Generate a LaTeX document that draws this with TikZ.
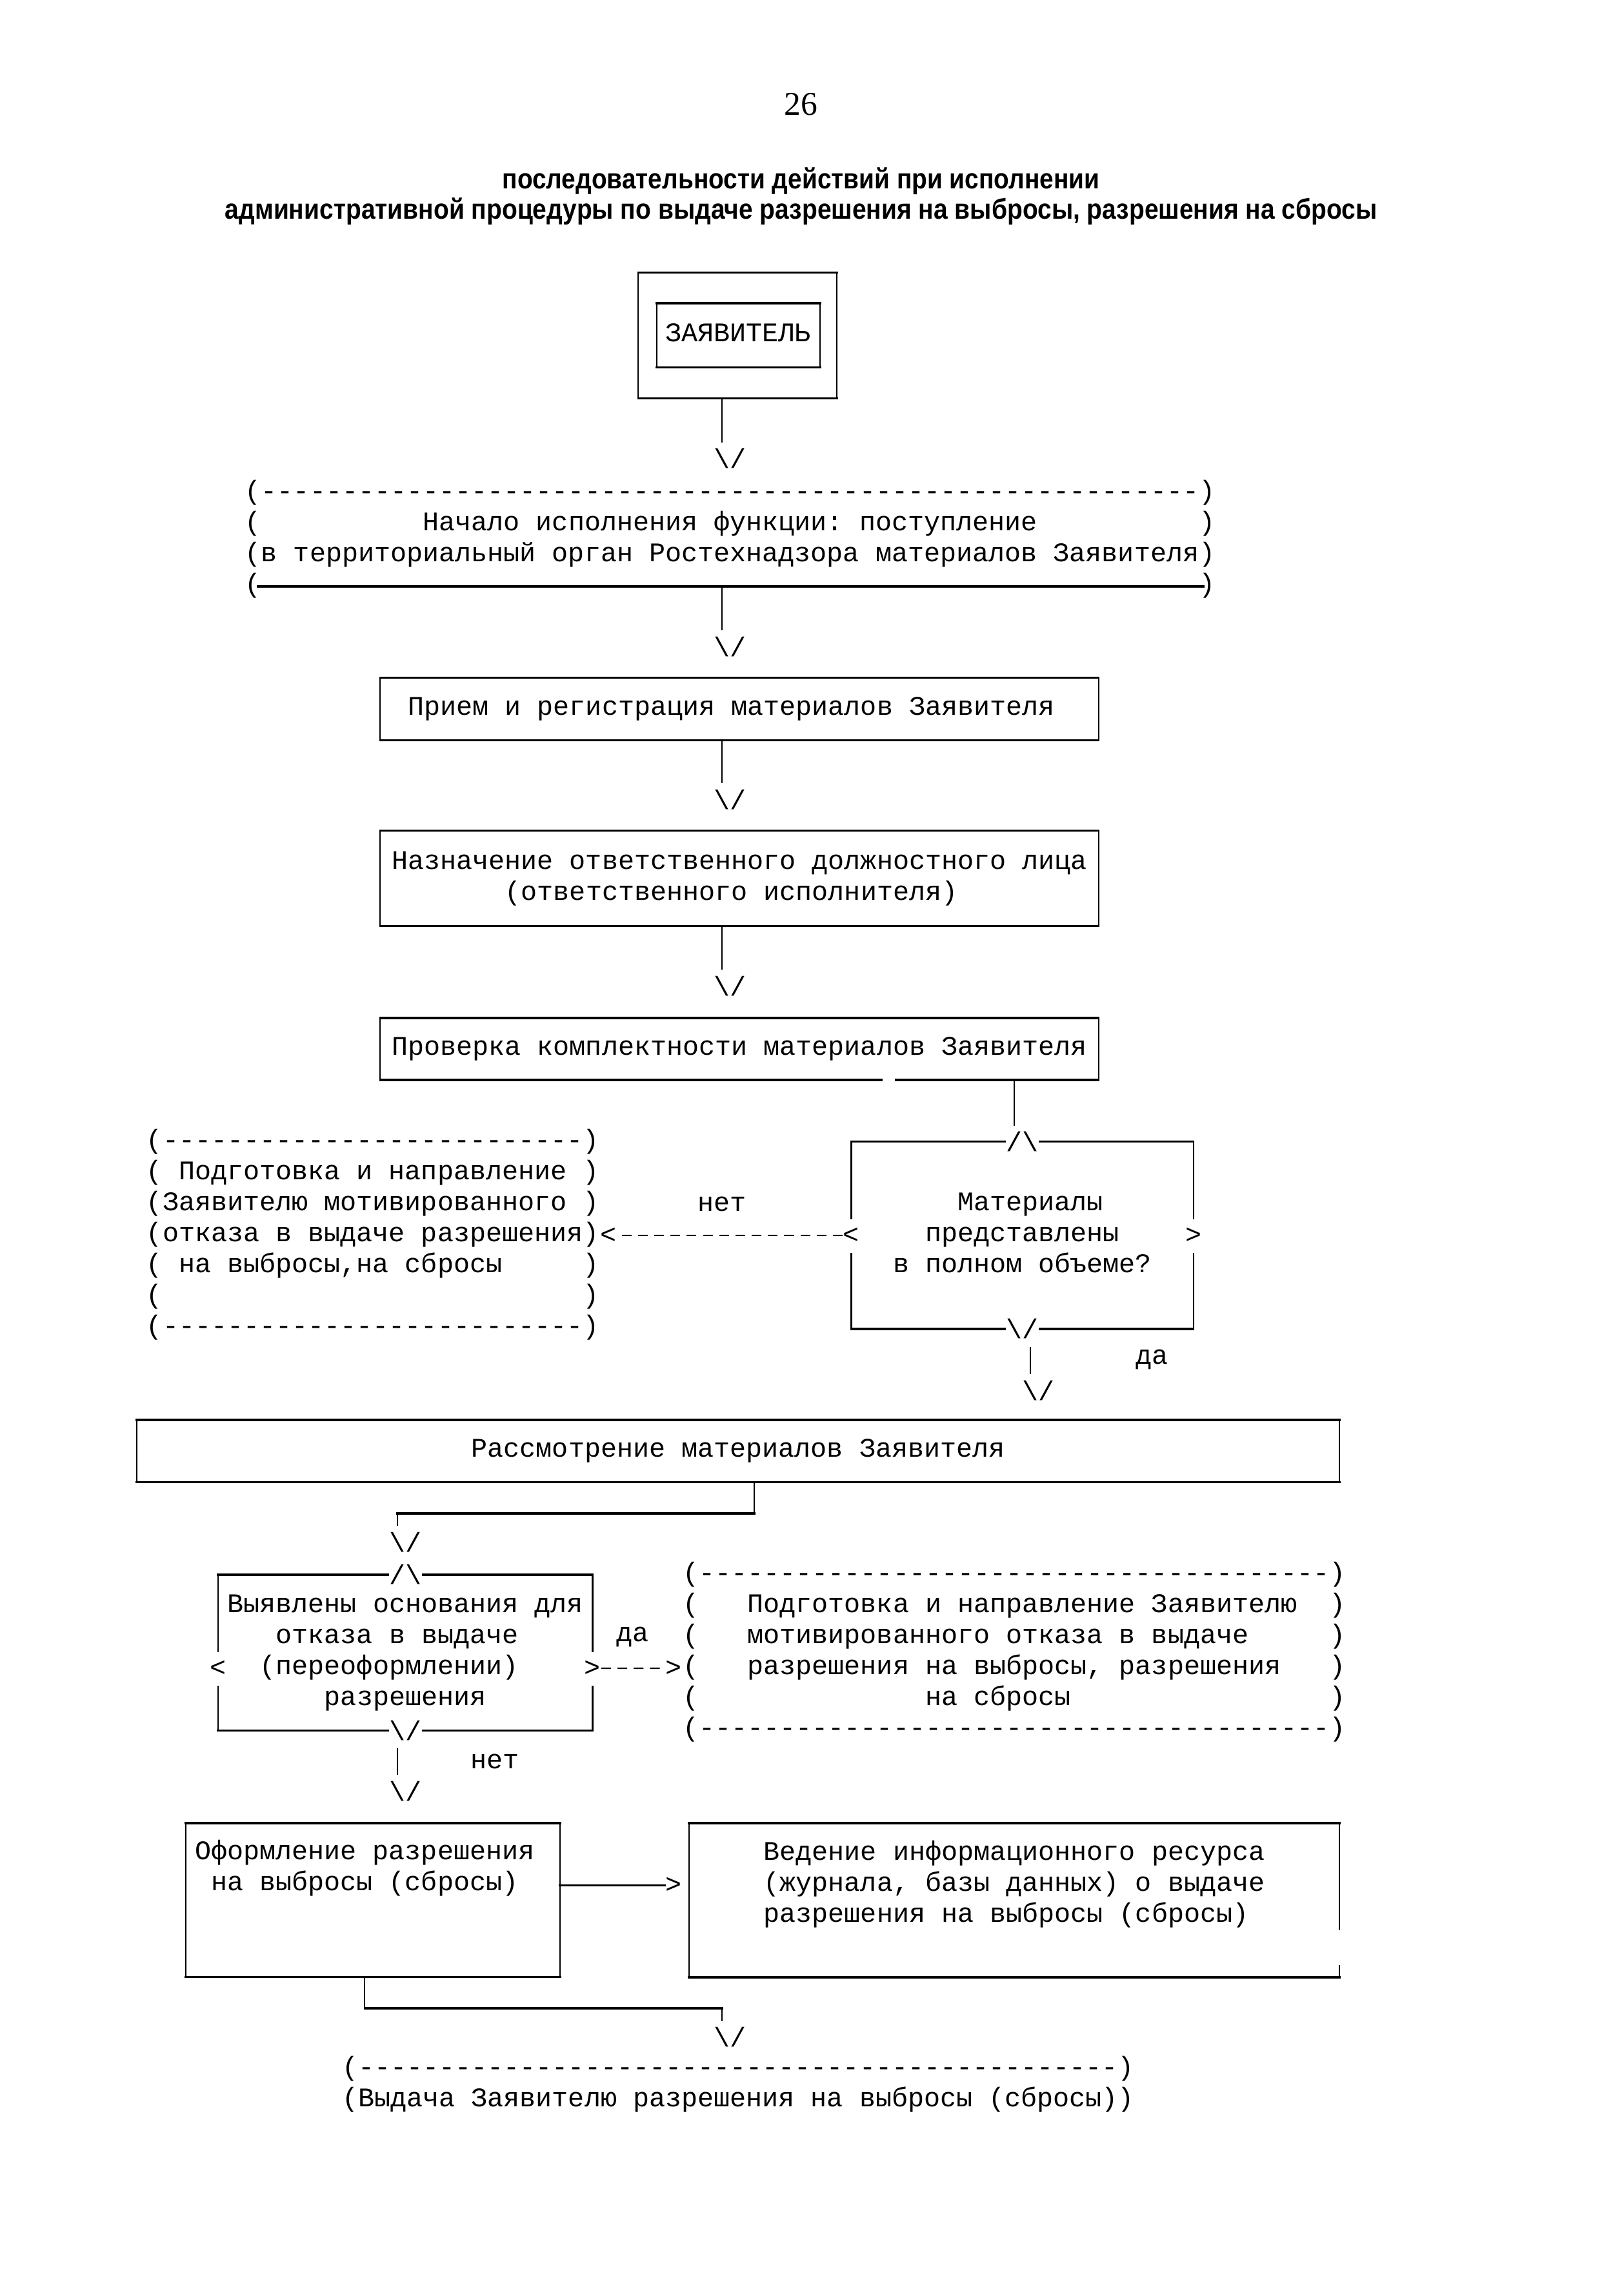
\documentclass[tikz,border=0pt]{standalone}
\usepackage{fontspec}
\usepackage{graphicx}
\setmainfont{Liberation Serif}
\setmonofont{Liberation Mono}
\newfontfamily\sansfam{Liberation Sans}
\usetikzlibrary{calc}
\newcommand\mf{\ttfamily\fontsize{10.05pt}{11.557pt}\selectfont}
\newcommand\SP[1]{\hbox to #1\dimexpr0.600098em\relax{}}
\ExplSyntaxOn
\NewDocumentCommand\DD{m}{\prg_replicate:nn{#1}{-}}
\ExplSyntaxOff
\newcommand\BS{\textbackslash}
\newcommand\hv[1]{\draw[hl] (#1.north west) -- (#1.north east) (#1.south west) -- (#1.south east);\draw[vl] (#1.north west) -- (#1.south west) (#1.north east) -- (#1.south east);}
\begin{document}
\begin{tikzpicture}[x=0.190909mm,y=-0.190909mm,
  mono/.style={font=\mf,inner sep=0pt,align=left},
  glyph/.style={font=\mf,inner sep=0pt},
  ttl/.style={font=\sansfam\bfseries\fontsize{10.6pt}{12pt}\selectfont,inner sep=0pt,anchor=base},
  wd/.style={minimum width=#1*0.190909mm},
  ht/.style={minimum height=#1*0.190909mm},
  hl/.style={line width=0.8pt,line cap=rect},
  vl/.style={line width=0.5pt},
  dconn/.style={line width=0.55pt,dash pattern=on 1.28mm off 0.85mm}]
\fill[white] (0,0) rectangle (1100,1576.7);
\useasboundingbox (0,0) rectangle (1100,1576.7);

\coordinate (c13) at (250.45,0);
\coordinate (c15) at (272.75,0);
\coordinate (c35) at (495.75,0);
\coordinate (c37) at (518.05,0);
\coordinate (c53) at (696.45,0);
\coordinate (c54) at (707.6,0);

% header
\node[font=\fontsize{12.4pt}{14pt}\selectfont,inner sep=0pt,anchor=base] (pg) at (550,79) {26};
\node[ttl] (t1) at (550,129.5) {\resizebox{78.3mm}{\height}{последовательности действий при исполнении}};
\node[ttl] (t2) at (550,150.6) {\resizebox{151mm}{\height}{административной процедуры по выдаче разрешения на выбросы, разрешения на сбросы}};

% Заявитель
\node[mono,wd=135.8,ht=85.8] (zayo) at (506.5,230.3) {};
\node[mono,wd=111.5,ht=43.3] (zayi) at (506.9,230.2) {\strut ЗАЯВИТЕЛЬ};
\hv{zayo}
\hv{zayi}
\node[glyph] (a1) at (501.3,315) {\BS/};
\draw[vl,shorten >=0.75mm] (c35 |- zayo.south) -- (c35 |- a1.north);

% Начало
\node[mono] (nach) at (501.35,370.6) {\strut(\DD{58})\\
\strut(\SP{10}Начало исполнения функции: поступление\SP{10})\\
\strut(в территориальный орган Ростехнадзора материалов Заявителя)\\
\strut(\SP{58})};
\draw[hl] (177.2,402.7) -- (826.2,402.7);
\coordinate (nb) at (495.75,402.7);
\node[glyph] (a2) at (501.3,444) {\BS/};
\draw[vl,shorten >=0.75mm] (nb) -- (c35 |- a2.north);

% Прием
\node[mono,wd=492.5,ht=42.1] (priem) at (507.75,486.95) {\strut Прием и регистрация материалов Заявителя\SP{1}};
\hv{priem}
\node[glyph] (a3) at (501.3,549) {\BS/};
\draw[vl,shorten >=0.75mm] (c35 |- priem.south) -- (c35 |- a3.north);

% Назначение
\node[mono,wd=492.5,ht=65] (nazn) at (507.75,603.2) {\strut Назначение ответственного должностного лица\\
\strut\SP{7}(ответственного исполнителя)\SP{8}};
\hv{nazn}
\node[glyph] (a4) at (501.3,677) {\BS/};
\draw[vl,shorten >=0.75mm] (c35 |- nazn.south) -- (c35 |- a4.north);

% Проверка
\node[mono,wd=492.5,ht=41.8] (prov) at (507.75,720.4) {\strut Проверка комплектности материалов Заявителя};
\draw[hl] (prov.north west) -- (prov.north east);
\draw[hl] (prov.south west) -- ($(prov.south west)+(344,0)$) ($(prov.south west)+(354,0)$) -- (prov.south east);
\draw[vl] (prov.north west) -- (prov.south west) (prov.north east) -- (prov.south east);

% decision 1
\node[mono,wd=234.15,ht=127.8] (dec1) at (702,848.3) {\strut\SP{20}\\
\strut\SP{6}Материалы\SP{5}\\
\strut\SP{4}представлены\SP{4}\\
\strut\SP{2}в полном объеме?\SP{2}\\
\strut\SP{20}};
\node[glyph] (d1t) at (dec1.north) {/\BS};
\node[glyph] (d1b) at (dec1.south) {\BS/};
\node[glyph] (d1l) at (dec1.west) {<};
\node[glyph] (d1r) at (dec1.east) {>};
\draw[hl] ([xshift=-2.3mm]d1t.center) -- (dec1.north west) ([xshift=2.3mm]d1t.center) -- (dec1.north east);
\draw[hl] ([xshift=-2.3mm]d1b.center) -- (dec1.south west) ([xshift=2.3mm]d1b.center) -- (dec1.south east);
\draw[vl] (dec1.north west) -- ([yshift=2.1mm]d1l.center) ([yshift=-2.3mm]d1l.center) -- (dec1.south west);
\draw[vl] (dec1.north east) -- ([yshift=2.1mm]d1r.center) ([yshift=-2.3mm]d1r.center) -- (dec1.south east);
\draw[vl,shorten >=0.75mm] (c53 |- prov.south) -- (c53 |- d1t.north);

% left refusal block
\node[mono] (lblk) at (256,848.3) {\strut(\DD{26})\\
\strut(\SP{1}Подготовка и направление\SP{1})\\
\strut(Заявителю мотивированного\SP{1})\\
\strut(отказа в выдаче разрешения)\\
\strut(\SP{1}на выбросы,на сбросы\SP{5})\\
\strut(\SP{26})\\
\strut(\DD{26})};
\node[glyph] (larr) at (417.7,848.3) {<};
\draw[dconn] (d1l.west) -- (larr.east);
\node[glyph] (net1) at (495.75,827) {нет};

\node[glyph] (a5) at (713.2,954.8) {\BS/};
\draw[vl,shorten <=1mm,shorten >=0.8mm] (c54 |- d1b.south) -- (c54 |- a5.north);
\node[glyph] (da1) at (791.2,933.5) {да};

% Рассмотрение
\node[mono,wd=825.1,ht=42] (rass) at (506.9,996.4) {\strut Рассмотрение материалов Заявителя};
\hv{rass}
\node[glyph] (a6) at (278.3,1059) {\BS/};
\draw[vl] (c37 |- rass.south) -- ++(0,21.5) coordinate (k1);
\draw[hl] (k1) -- (k1 -| c15);
\draw[vl,shorten >=0.75mm] (k1 -| c15) -- (c15 |- a6.north);

% decision 2
\node[mono,wd=256.45,ht=106.3] (dec2) at (278.3,1134.85) {\strut Выявлены основания для\\
\strut\SP{3}отказа в выдаче\SP{4}\\
\strut\SP{2}(переоформлении)\SP{4}\\
\strut\SP{6}разрешения\SP{6}};
\node[glyph] (d2t) at (dec2.north) {/\BS};
\node[glyph] (d2b) at (dec2.south) {\BS/};
\node[glyph] (d2l) at ([yshift=-2.05mm]dec2.west) {<};
\node[glyph] (d2r) at ([yshift=-2.05mm]dec2.east) {>};
\draw[hl] ([xshift=-2.3mm]d2t.center) -- (dec2.north west) ([xshift=2.3mm]d2t.center) -- (dec2.north east);
\draw[hl] ([xshift=-2.3mm]d2b.center) -- (dec2.south west) ([xshift=2.3mm]d2b.center) -- (dec2.south east);
\draw[vl] (dec2.north west) -- ([yshift=2.1mm]d2l.center) ([yshift=-2.3mm]d2l.center) -- (dec2.south west);
\draw[vl] (dec2.north east) -- ([yshift=2.1mm]d2r.center) ([yshift=-2.3mm]d2r.center) -- (dec2.south east);
\node[glyph] (da2) at (434.4,1124.3) {да};

% right refusal block
\node[mono] (rblk) at (696.45,1134.95) {\strut(\DD{39})\\
\strut(\SP{3}Подготовка и направление Заявителю\SP{2})\\
\strut(\SP{3}мотивированного отказа в выдаче\SP{5})\\
\strut(\SP{3}разрешения на выбросы, разрешения\SP{3})\\
\strut(\SP{14}на сбросы\SP{16})\\
\strut(\DD{39})};
\node[glyph] (rarr) at (462.3,1145.6) {>};
\draw[dconn] (d2r.east) -- (rarr.west);

\node[glyph] (a7) at (278.3,1230) {\BS/};
\draw[vl,shorten <=1mm,shorten >=0.8mm] (c15 |- d2b.south) -- (c15 |- a7.north);
\node[glyph] (net2) at (339.65,1209.5) {нет};

% Оформление
\node[mono,wd=256.45,ht=105] (oform) at (256,1304.8) {\strut Оформление разрешения\SP{1}\\
\strut\SP{1}на выбросы (сбросы)\SP{2}\\
\strut\\
\strut};
\hv{oform}

% Ведение
\node[mono,wd=446,ht=105.2] (ved) at (696.45,1304.9) {\strut\SP{4}Ведение информационного ресурса\SP{4}\\
\strut\SP{4}(журнала, базы данных) о выдаче\SP{4}\\
\strut\SP{4}разрешения на выбросы (сбросы)\SP{5}\\
\strut};
\draw[hl] (ved.north west) -- (ved.north east) (ved.south west) -- (ved.south east);
\draw[vl] (ved.north west) -- (ved.south west);
\draw[vl] (ved.north east) -- ($(ved.north east)+(0,73.7)$) ($(ved.south east)+(0,-8.5)$) -- (ved.south east);

\node[glyph] (garr) at (462.3,1294.8) {>};
\draw[hl] (oform.east |- garr) -- (garr.west);

% to final
\node[glyph] (a8) at (501.3,1399) {\BS/};
\draw[vl] (c13 |- oform.south) -- ++(0,21.4) coordinate (k2);
\draw[hl] (k2) -- (k2 -| c35);
\draw[vl,shorten >=0.75mm] (k2 -| c35) -- (c35 |- a8.north);

\node[mono] (fin) at (506.9,1431.7) {\strut(\DD{47})\\
\strut(Выдача Заявителю разрешения на выбросы (сбросы))};
\end{tikzpicture}
\end{document}
